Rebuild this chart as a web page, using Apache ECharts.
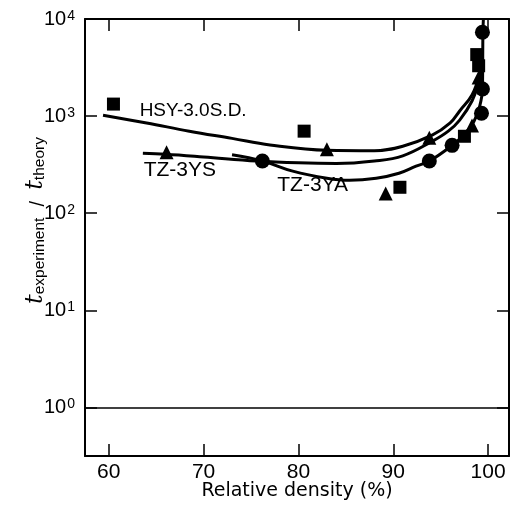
<!DOCTYPE html>
<html>
<head>
<meta charset="utf-8">
<script src="https://cdn.jsdelivr.net/npm/echarts@6/dist/echarts.min.js"></script>
<style>html,body{margin:0;padding:0;background:#fff}#c{width:513px;height:508px}</style>
</head>
<body>
<div id="c"></div>
<script>
// ---- data ----
var xTickLabels = ['60', '70', '80', '90', '100'];
var yTickLabels = ['10^0', '10^1', '10^2', '10^3', '10^4'];

// measured points: HSY-3.0S.D. (squares)
var hsyPtsX = [60.5, 80.6, 90.7, 97.5, 98.8, 99.0];
var hsyPtsY = [1330, 700, 185, 620, 4300, 3300];
// TZ-3YS (triangles)
var ysPtsX = [66.1, 83.0, 89.2, 93.8, 98.3, 99.0];
var ysPtsY = [425, 455, 160, 600, 800, 2500];
// TZ-3YA (circles)
var yaPtsX = [76.2, 93.8, 96.2, 99.3, 99.4, 99.4];
var yaPtsY = [345, 345, 500, 1070, 1900, 7300];

// fitted curves
var hsyCurveX = [59.4, 64, 68.5, 73, 77, 83, 88, 91, 94.1, 96, 97, 98.3, 99.05, 99.4];
var hsyCurveY = [1020, 850, 700, 590, 505, 445, 440, 490, 636, 850, 1130, 1650, 2650, 4600];
var ysCurveX = [63.6, 66, 70, 75.6, 80, 84, 88, 91, 94.1, 95.8, 97, 98.3, 99.05, 99.3];
var ysCurveY = [415, 405, 380, 345, 330, 325, 345, 390, 550, 700, 910, 1430, 2300, 3000];
var yaCurveX = [73.0, 76.2, 79.4, 83, 85.4, 88.2, 90.6, 92.4, 93.8, 96.2, 97.5, 98.5, 99.1, 99.4, 99.45, 99.5];
var yaCurveY = [400, 345, 271, 229, 218, 229, 258, 305, 344, 500, 650, 880, 1250, 1900, 7300, 10000];

var curveLabels = [
  {text: 'HSY-3.0S.D.', x: 68.9, y: 1130, size: 19},
  {text: 'TZ-3YS', x: 67.5, y: 277, size: 21},
  {text: 'TZ-3YA', x: 81.5, y: 195, size: 21}
];

function zip(xs, ys) { return xs.map(function (x, i) { return [x, ys[i]]; }); }

var FONT = 'Liberation Sans';
var chart = echarts.init(document.getElementById('c'));

var xCommon = {
  type: 'value', min: 57.5, max: 102.2, splitNumber: 5,
  axisLine: {show: true, onZero: false, lineStyle: {color: '#000', width: 2}},
  axisTick: {show: true, inside: true, length: 12, lineStyle: {color: '#000', width: 1.5}},
  splitLine: {show: false}
};
var yCommon = {
  type: 'log', logBase: 10, min: Math.pow(10, -0.5), max: 10000,
  axisLine: {show: true, onZero: false, lineStyle: {color: '#000', width: 2}},
  axisTick: {show: true, inside: true, length: 12, lineStyle: {color: '#000', width: 1.5}},
  splitLine: {show: false}, minorTick: {show: false}
};

function labelStyle(l) {
  return {
    coord: [l.x, l.y], symbol: 'circle', symbolSize: 0,
    label: {show: true, position: 'inside', formatter: l.text, color: '#000',
      fontFamily: FONT, fontSize: l.size}
  };
}

var option = {
  backgroundColor: '#fff',
  animation: false,
  grid: {left: 85, top: 19, width: 424, height: 437, containLabel: false},
  xAxis: [
    Object.assign({}, xCommon, {
      position: 'bottom',
      name: 'Relative density (%)', nameLocation: 'middle', nameGap: 26, nameMoveOverlap: false,
      nameTextStyle: {fontFamily: 'DejaVu Sans', fontSize: 19, color: '#000', verticalAlign: 'top'},
      axisLabel: {show: true, margin: 6, color: '#000', fontFamily: FONT, fontSize: 21,
        showMinLabel: false, showMaxLabel: false,
        formatter: function (v) {
          var s = String(Math.round(v));
          return (Math.abs(v - Math.round(v)) < 1e-6 && xTickLabels.indexOf(s) >= 0) ? s : '';
        }}
    }),
    Object.assign({}, xCommon, {position: 'top', axisLabel: {show: false}})
  ],
  yAxis: [
    Object.assign({}, yCommon, {
      position: 'left',
      name: '{t|t}{sub|experiment}{sl|  /  }{t|t}{sub|theory}',
      nameLocation: 'middle', nameGap: 37, nameRotate: 90, nameMoveOverlap: false,
      nameTextStyle: {
        color: '#000', padding: [0, 0, 0, 34],
        rich: {
          t: {fontFamily: 'DejaVu Serif', fontStyle: 'italic', fontSize: 24, color: '#000', lineHeight: 26, verticalAlign: 'bottom'},
          sl: {fontFamily: FONT, fontSize: 20, color: '#000', lineHeight: 26, verticalAlign: 'bottom'},
          sub: {fontFamily: FONT, fontSize: 15.5, color: '#000', lineHeight: 15, verticalAlign: 'bottom', padding: [11, 0, 0, 0]}
        }
      },
      axisLabel: {show: true, margin: 10, color: '#000',
        formatter: function (v) {
          var l = Math.log10(v), e = Math.round(l);
          if (Math.abs(l - e) > 1e-6) return '';
          var lab = yTickLabels[e];
          if (!lab) return '';
          var parts = lab.split('^');
          return '{b|' + parts[0] + '}{s|' + parts[1] + '}';
        },
        rich: {
          b: {fontFamily: FONT, fontSize: 20, color: '#000', lineHeight: 20, verticalAlign: 'bottom'},
          s: {fontFamily: FONT, fontSize: 14, color: '#000', lineHeight: 14, verticalAlign: 'top', padding: [0, 0, 12, 1]}
        }}
    }),
    Object.assign({}, yCommon, {position: 'right', axisLabel: {show: false}})
  ],
  series: [
    {
      type: 'line', name: 'HSY curve', data: zip(hsyCurveX, hsyCurveY),
      smooth: 0.4, showSymbol: false, symbol: 'none',
      lineStyle: {color: '#000', width: 3},
      markLine: {
        silent: true, symbol: 'none', label: {show: false},
        lineStyle: {color: '#000', width: 1.5, type: 'solid'},
        data: [{yAxis: 1}]
      },
      markPoint: {data: [labelStyle(curveLabels[0])]}
    },
    {
      type: 'line', name: 'TZ-3YS curve', data: zip(ysCurveX, ysCurveY),
      smooth: 0.4, showSymbol: false, symbol: 'none',
      lineStyle: {color: '#000', width: 3},
      markPoint: {data: [labelStyle(curveLabels[1])]}
    },
    {
      type: 'line', name: 'TZ-3YA curve', data: zip(yaCurveX, yaCurveY),
      smooth: 0.4, showSymbol: false, symbol: 'none',
      lineStyle: {color: '#000', width: 3},
      markPoint: {data: [labelStyle(curveLabels[2])]}
    },
    {type: 'scatter', name: 'HSY-3.0S.D.', data: zip(hsyPtsX, hsyPtsY), symbol: 'rect', symbolSize: 13, itemStyle: {color: '#000', opacity: 1}},
    {type: 'scatter', name: 'TZ-3YS', data: zip(ysPtsX, ysPtsY), symbol: 'triangle', symbolSize: 14, itemStyle: {color: '#000', opacity: 1}},
    {type: 'scatter', name: 'TZ-3YA', data: zip(yaPtsX, yaPtsY), symbol: 'circle', symbolSize: 15, itemStyle: {color: '#000', opacity: 1}}
  ]
};
chart.setOption(option);
</script>
</body>
</html>
